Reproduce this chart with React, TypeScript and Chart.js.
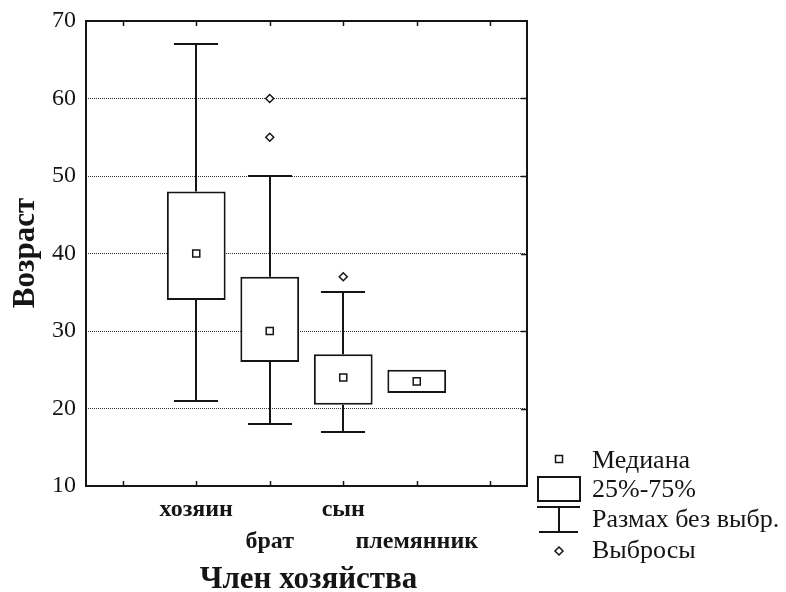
import React, { useEffect, useRef } from 'react';
import { Chart, registerables } from 'chart.js';
Chart.register(...registerables);

const categories = ['', 'хозяин', 'брат', 'сын', 'племянник', ''];
const tickLabels: (string | string[])[] = ['', 'хозяин', ['', 'брат'], 'сын', ['', 'племянник'], ''];
const q1 = [null, 34, 26, 20.5, 22, null];
const q3 = [null, 48, 37, 27, 25, null];
const medians = [null, 40, 30, 24, 23.5, null];
const whiskerMin = [null, 21, 18, 17, 22, null];
const whiskerMax = [null, 67, 50, 35, 25, null];
const outlierCats = ['брат', 'брат', 'сын'];
const outlierValues = [60, 55, 37];
const yMin = 10;
const yMax = 70;
const yStep = 10;
const legendLabels = ['Медиана', '25%-75%', 'Размах без выбр.', 'Выбросы'];
const xTitle = 'Член хозяйства';
const yTitle = 'Возраст';

const INK = '#151515';
const SERIF = "'Liberation Serif', 'Times New Roman', serif";

const boxPlugin = {
  id: 'boxExtras',
  beforeDatasetsDraw(chart: any) {
    const { ctx, scales } = chart;
    const x = scales.x;
    const y = scales.y;
    const cw = x.width / categories.length;
    const capHalf = cw * 0.3;
    ctx.save();
    ctx.strokeStyle = INK;
    ctx.lineWidth = 2;
    categories.forEach((_, i) => {
      const lo = whiskerMin[i];
      const hi = whiskerMax[i];
      const b1 = q1[i];
      const b3 = q3[i];
      if (lo == null || hi == null || b1 == null || b3 == null) return;
      const cx = Math.round(x.getPixelForValue(i));
      if (hi > b3) {
        const py = Math.round(y.getPixelForValue(hi));
        ctx.beginPath();
        ctx.moveTo(cx, y.getPixelForValue(b3));
        ctx.lineTo(cx, py);
        ctx.moveTo(cx - capHalf, py);
        ctx.lineTo(cx + capHalf, py);
        ctx.stroke();
      }
      if (lo < b1) {
        const py = Math.round(y.getPixelForValue(lo));
        ctx.beginPath();
        ctx.moveTo(cx, y.getPixelForValue(b1));
        ctx.lineTo(cx, py);
        ctx.moveTo(cx - capHalf, py);
        ctx.lineTo(cx + capHalf, py);
        ctx.stroke();
      }
    });
    ctx.restore();
  },
  afterDraw(chart: any) {
    const { ctx, chartArea, scales } = chart;
    const { left, right, top, bottom } = chartArea;
    const x = scales.x;
    const y = scales.y;
    ctx.save();
    ctx.strokeStyle = INK;
    ctx.lineWidth = 2;
    ctx.strokeRect(left, top, right - left, bottom - top);
    ctx.lineWidth = 1.5;
    categories.forEach((_, i) => {
      const px = Math.round(x.getPixelForValue(i)) + 0.5;
      ctx.beginPath();
      ctx.moveTo(px, top);
      ctx.lineTo(px, top + 5);
      ctx.moveTo(px, bottom);
      ctx.lineTo(px, bottom - 5);
      ctx.stroke();
    });
    for (let v = yMin + yStep; v < yMax; v += yStep) {
      const py = Math.round(y.getPixelForValue(v)) + 0.5;
      ctx.beginPath();
      ctx.moveTo(right, py);
      ctx.lineTo(right - 6, py);
      ctx.stroke();
    }
    ctx.fillStyle = INK;
    ctx.font = `bold 31px ${SERIF}`;
    ctx.textAlign = 'center';
    ctx.textBaseline = 'alphabetic';
    ctx.fillText(xTitle, (left + right) / 2 + 2, 588);
    ctx.save();
    ctx.translate(26, 253);
    ctx.rotate(-Math.PI / 2);
    ctx.textBaseline = 'middle';
    ctx.fillText(yTitle, 0, 0);
    ctx.restore();
    const lx = 559;
    const rows = [459, 489, 520, 552];
    ctx.lineWidth = 1.5;
    ctx.strokeStyle = INK;
    ctx.strokeRect(lx - 3.5, rows[0] - 3.5, 7, 7);
    ctx.lineWidth = 2;
    ctx.strokeRect(538, 477, 42, 24);
    ctx.beginPath();
    ctx.moveTo(537, 507);
    ctx.lineTo(580, 507);
    ctx.moveTo(lx, 507);
    ctx.lineTo(lx, 532);
    ctx.moveTo(539, 532);
    ctx.lineTo(578, 532);
    ctx.stroke();
    ctx.lineWidth = 1.5;
    ctx.beginPath();
    const oy = rows[3] - 1;
    ctx.moveTo(lx, oy - 4);
    ctx.lineTo(lx + 4, oy);
    ctx.lineTo(lx, oy + 4);
    ctx.lineTo(lx - 4, oy);
    ctx.closePath();
    ctx.stroke();
    ctx.font = `26px ${SERIF}`;
    ctx.textAlign = 'left';
    ctx.textBaseline = 'alphabetic';
    const baselines = [468, 497, 527, 558];
    legendLabels.forEach((t, i) => ctx.fillText(t, 592, baselines[i]));
    ctx.restore();
  },
};

export default function App() {
  const ref = useRef<HTMLCanvasElement | null>(null);
  useEffect(() => {
    if (!ref.current) return;
    const chart = new Chart(ref.current, {
      type: 'bar',
      data: {
        labels: categories,
        datasets: [
          {
            type: 'bar',
            label: '25%-75%',
            data: categories.map((_, i) => (q1[i] == null ? null : [q1[i], q3[i]])) as any,
            backgroundColor: '#ffffff',
            borderColor: INK,
            borderWidth: 2,
            borderSkipped: false,
            barPercentage: 0.8,
            categoryPercentage: 1,
            order: 2,
          } as any,
          {
            type: 'line',
            label: 'Медиана',
            data: medians as any,
            showLine: false,
            pointStyle: 'rect',
            pointRadius: 5,
            pointBackgroundColor: '#ffffff',
            pointBorderColor: INK,
            pointBorderWidth: 1.5,
            order: 1,
          } as any,
          {
            type: 'line',
            label: 'Выбросы',
            data: outlierCats.map((c, i) => ({ x: c, y: outlierValues[i] })) as any,
            showLine: false,
            pointStyle: 'rectRot',
            pointRadius: 4,
            pointBackgroundColor: '#ffffff',
            pointBorderColor: INK,
            pointBorderWidth: 1.5,
            order: 0,
          } as any,
        ],
      },
      options: {
        responsive: false,
        animation: false,
        layout: { padding: { left: 0, top: 21, right: 259, bottom: 0 } },
        plugins: { legend: { display: false }, tooltip: { enabled: false } },
        scales: {
          x: {
            offset: true,
            grid: { display: false, drawTicks: false },
            border: { display: false },
            ticks: {
              autoSkip: false,
              maxRotation: 0,
              padding: 8,
              color: INK,
              font: { family: SERIF, size: 24, weight: 'bold', lineHeight: 1.333 },
              callback: (_v: any, i: number) => tickLabels[i],
            },
            afterFit: (s: any) => {
              s.height = 106;
              s.paddingLeft = 0;
              s.paddingRight = 0;
            },
          },
          y: {
            min: yMin,
            max: yMax,
            border: { display: false, dash: [1, 1] },
            grid: { color: '#333', lineWidth: 1, drawTicks: false },
            ticks: {
              stepSize: yStep,
              padding: 10,
              color: INK,
              font: { family: SERIF, size: 24 },
            },
            afterFit: (s: any) => {
              s.width = 86;
              s.paddingTop = 0;
              s.paddingBottom = 0;
            },
          },
        },
      } as any,
      plugins: [boxPlugin],
    });
    return () => chart.destroy();
  }, []);
  return (
    <div style={{ position: 'absolute', left: 0, top: 0, width: 786, height: 592, background: '#fff' }}>
      <canvas ref={ref} width={786} height={592} />
    </div>
  );
}
